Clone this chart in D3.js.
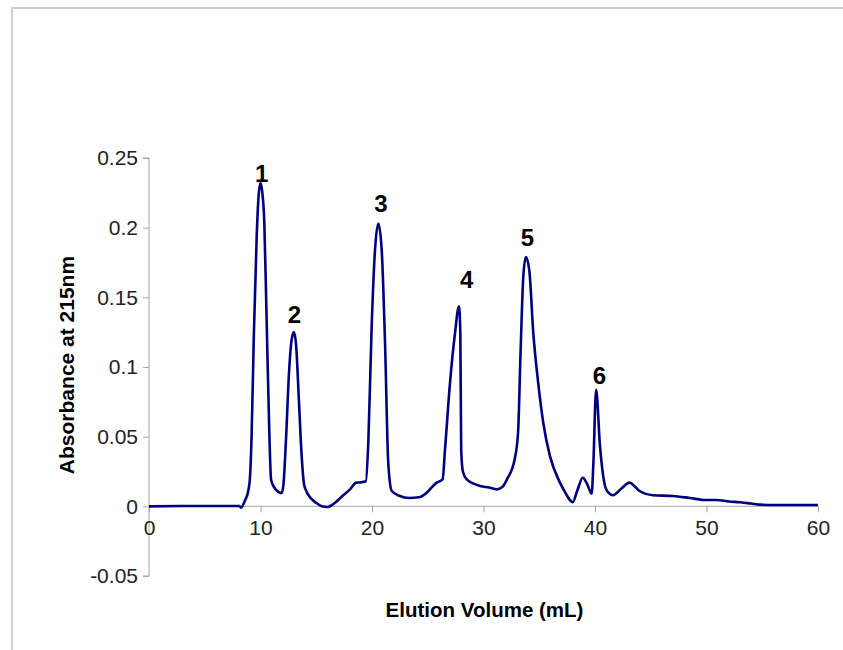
<!DOCTYPE html>
<html>
<head>
<meta charset="utf-8">
<script src="https://cdn.jsdelivr.net/npm/d3@7"></script>
<style>
  html, body { margin: 0; padding: 0; background: #fff; overflow: hidden; }
  #chart { width: 843px; height: 650px; }
  text { font-family: Arial, "Liberation Sans", sans-serif; }
</style>
</head>
<body>
<div id="chart"></div>
<script>
// Chromatogram – absorbance at 215nm vs elution volume
const volume = [
  0, 3, 8.1, 8.25, 8.6, 8.9, 9.05, 9.2, 9.4, 9.66, 9.85, 10.0, 10.15, 10.34, 10.55, 10.8, 10.95,
  11.2, 11.5, 11.9, 12.05, 12.3, 12.55, 12.8, 13.0, 13.2, 13.45, 13.7, 13.9, 14.05, 14.5, 15.0,
  15.5, 16.0, 16.6, 17.3, 18.0, 18.6, 19.0, 19.45, 19.67, 19.97, 20.27, 20.57, 20.87, 21.17,
  21.46, 21.77, 22.5, 23.3, 24.2, 24.9, 25.4, 25.8, 26.33, 26.55, 27.0, 27.44, 27.8, 27.92, 28.0,
  28.15, 28.5, 29.7, 30.5, 31.2, 31.7, 32.1, 32.8, 33.1, 33.33, 33.57, 33.8, 34.1, 34.47, 34.9,
  35.36, 35.96, 36.86, 37.4, 37.8, 38.0, 38.4, 38.9, 39.3, 39.7, 39.85, 40.1, 40.45, 40.9, 41.2,
  41.6, 42.4, 43.1, 43.6, 44.0, 45.2, 47.0, 48.5, 50.0, 50.9, 52.0, 53.0, 54.0, 54.8, 56, 60
];
const absorbance = [
  0, 0.0002, 0.0002, -0.001, 0.004, 0.011, 0.02, 0.05, 0.122, 0.194, 0.225, 0.232, 0.226, 0.204, 0.134, 0.05, 0.019,
  0.014, 0.011, 0.0095, 0.015, 0.05, 0.095, 0.12, 0.125, 0.115, 0.075, 0.035, 0.016, 0.012, 0.006, 0.0025,
  0.0, -0.0005, 0.002, 0.007, 0.012, 0.017, 0.0172, 0.018, 0.046, 0.129, 0.184, 0.203, 0.184, 0.117,
  0.031, 0.011, 0.0074, 0.006, 0.0065, 0.0098, 0.014, 0.017, 0.0193, 0.041, 0.089, 0.124, 0.1435, 0.125, 0.04,
  0.025, 0.0193, 0.0146, 0.0135, 0.0122, 0.014, 0.0193, 0.034, 0.053, 0.112, 0.165, 0.179, 0.170, 0.124, 0.089,
  0.060, 0.036, 0.017, 0.009, 0.004, 0.003, 0.011, 0.0205, 0.016, 0.009, 0.03, 0.0838, 0.043, 0.0146, 0.0098,
  0.008, 0.013, 0.017, 0.014, 0.011, 0.008, 0.0074, 0.006, 0.0045, 0.0045, 0.0035, 0.0029, 0.002, 0.0012, 0.001, 0.001
];

// peak numbers, placed above each peak (volume, absorbance)
const peakNames = ["1", "2", "3", "4", "5", "6"];
const peakX     = [10.1, 13.05, 20.8, 28.5, 33.93, 40.39];
const peakY     = [0.233, 0.1317, 0.211, 0.157, 0.187, 0.088];

const xTicks = [0, 10, 20, 30, 40, 50, 60];
const xTickLabels = ["0", "10", "20", "30", "40", "50", "60"];
const yTicks = [-0.05, 0, 0.05, 0.1, 0.15, 0.2, 0.25];
const yTickLabels = ["-0.05", "0", "0.05", "0.1", "0.15", "0.2", "0.25"];

const xTitle = "Elution Volume (mL)";
const yTitle = "Absorbance at 215nm";

const data = volume.map((v, i) => ({ v, a: absorbance[i] }));

const width = 843, height = 650;
const margin = { top: 158, right: 25, bottom: 74, left: 149 };

const x = d3.scaleLinear()
  .domain([0, 60])
  .range([margin.left, width - margin.right]);

const y = d3.scaleLinear()
  .domain([-0.05, 0.25])
  .range([height - margin.bottom, margin.top]);

const svg = d3.select("#chart").append("svg")
  .attr("width", width).attr("height", height);

// outer frame (only left/top edges visible)
svg.append("path")
  .attr("d", "M12,700V8H900")
  .attr("fill", "none")
  .attr("stroke", "#cfcfcf")
  .attr("stroke-width", 2);

const axisColor = "#a6a6a6";

// Y axis
svg.append("g")
  .attr("transform", `translate(${margin.left},0)`)
  .call(d3.axisLeft(y).tickValues(yTicks).tickSize(6).tickPadding(5)
    .tickFormat((d, i) => yTickLabels[i]))
  .call(g => g.select(".domain").attr("stroke", axisColor).attr("d", `M-6,${y(0.25)}H0V${y(-0.05)}H-6`))
  .call(g => g.selectAll(".tick line").attr("stroke", axisColor))
  .call(g => g.selectAll(".tick text").attr("fill", "#222").attr("font-size", 21)
    .attr("font-family", "Arial, 'Liberation Sans', sans-serif"));

// X axis at y = 0
svg.append("g")
  .attr("transform", `translate(0,${y(0)})`)
  .call(d3.axisBottom(x).tickValues(xTicks).tickSize(6).tickPadding(8)
    .tickFormat((d, i) => xTickLabels[i]))
  .call(g => g.select(".domain").attr("stroke", axisColor).attr("d", `M${x(0)},0H${x(60)}`))
  .call(g => g.selectAll(".tick line").attr("stroke", axisColor))
  .call(g => g.selectAll(".tick text").attr("fill", "#222").attr("font-size", 21)
    .attr("font-family", "Arial, 'Liberation Sans', sans-serif"));

// trace
const line = d3.line()
  .x(d => x(d.v))
  .y(d => y(d.a))
  .curve(d3.curveMonotoneX);

svg.append("path")
  .datum(data)
  .attr("fill", "none")
  .attr("stroke", "#000080")
  .attr("stroke-width", 2.6)
  .attr("stroke-linejoin", "round")
  .attr("d", line);

// peak labels
svg.append("g").selectAll("text")
  .data(peakNames)
  .join("text")
  .attr("x", (d, i) => x(peakX[i]))
  .attr("y", (d, i) => y(peakY[i]))
  .attr("text-anchor", "middle")
  .attr("font-size", 24)
  .attr("font-weight", "bold")
  .attr("fill", "#000")
  .text(d => d);

// axis titles
svg.append("text")
  .attr("x", (x(0) + x(60)) / 2 + 1)
  .attr("y", 617)
  .attr("text-anchor", "middle")
  .attr("font-size", 20.5)
  .attr("font-weight", "bold")
  .attr("fill", "#000")
  .text(xTitle);

svg.append("text")
  .attr("transform", `translate(74,${(y(0.25) + y(-0.05)) / 2 - 2}) rotate(-90)`)
  .attr("text-anchor", "middle")
  .attr("font-size", 21)
  .attr("font-weight", "bold")
  .attr("fill", "#000")
  .text(yTitle);
</script>
</body>
</html>
